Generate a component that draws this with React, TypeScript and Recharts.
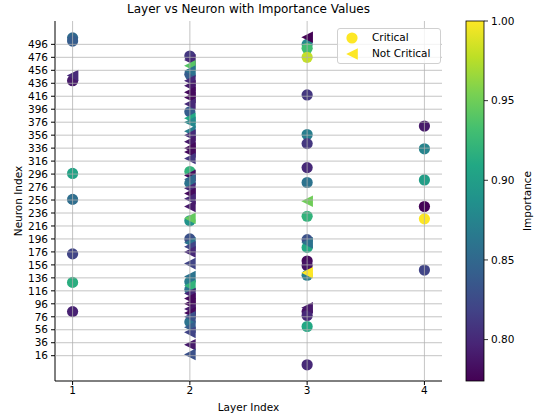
import { ScatterChart, Scatter, XAxis, YAxis, ReferenceLine } from "recharts";

// importance colour range (viridis)
const VMIN = 0.774;
const VMAX = 1.0;

const layerTicks = [1, 2, 3, 4];
const neuronTicks = [16, 36, 56, 76, 96, 116, 136, 156, 176, 196, 216, 236, 256, 276, 296, 316, 336, 356, 376, 396, 416, 436, 456, 476, 496];
const importanceTicks = [0.8, 0.85, 0.9, 0.95, 1.0];

// layer 1
const l1CritNeuron = [506, 501, 440, 297, 257, 173, 129, 84];
const l1CritImp = [0.85, 0.84, 0.79, 0.905, 0.855, 0.82, 0.915, 0.795];
const l1NotNeuron = [448];
const l1NotImp = [0.8];

// layer 2
const l2CritNeuron = [478, 450, 392, 300, 282, 224, 196, 130, 118, 68];
const l2CritImp = [0.81, 0.84, 0.84, 0.92, 0.86, 0.89, 0.83, 0.87, 0.86, 0.86];
const l2NotNeuron = [472, 463, 455, 440, 432, 422, 414, 404, 382, 376, 362, 356, 346, 336, 330, 320, 294, 288, 274, 266, 258, 246, 228, 190, 184, 176, 158, 138, 124, 112, 104, 96, 88, 82, 76, 60, 52, 33, 18];
const l2NotImp = [0.8, 0.94, 0.86, 0.8, 0.79, 0.78, 0.78, 0.8, 0.91, 0.88, 0.87, 0.8, 0.79, 0.78, 0.78, 0.81, 0.78, 0.85, 0.8, 0.78, 0.8, 0.79, 0.945, 0.86, 0.82, 0.8, 0.82, 0.86, 0.92, 0.8, 0.78, 0.78, 0.79, 0.78, 0.83, 0.84, 0.82, 0.79, 0.83];

// layer 3
const l3CritNeuron = [496, 490, 476, 418, 357, 343, 306, 283, 231, 195, 183, 162, 155, 140, 84, 78, 61, 2];
const l3CritImp = [0.88, 0.93, 0.98, 0.81, 0.87, 0.81, 0.8, 0.86, 0.92, 0.83, 0.91, 0.78, 0.785, 0.87, 0.785, 0.8, 0.91, 0.8];
const l3NotNeuron = [507, 254, 190, 144, 90];
const l3NotImp = [0.775, 0.95, 0.86, 1.0, 0.79];

// layer 4
const l4CritNeuron = [370, 335, 287, 246, 227, 148];
const l4CritImp = [0.79, 0.875, 0.9, 0.776, 1.0, 0.82];

const VIRIDIS = ["#440154", "#482475", "#414487", "#355f8d", "#2a788e", "#21918c", "#22a884", "#44bf70", "#7ad151", "#bddf26", "#fde725"];

function hexToRgb(h: string) {
  return [parseInt(h.slice(1, 3), 16), parseInt(h.slice(3, 5), 16), parseInt(h.slice(5, 7), 16)];
}

function viridis(v: number) {
  const t = Math.min(1, Math.max(0, (v - VMIN) / (VMAX - VMIN))) * 10;
  const i = Math.min(9, Math.floor(t));
  const f = t - i;
  const a = hexToRgb(VIRIDIS[i]);
  const b = hexToRgb(VIRIDIS[i + 1]);
  const c = a.map((x, k) => Math.round(x + (b[k] - x) * f));
  return `rgb(${c[0]},${c[1]},${c[2]})`;
}

function build(layer: number, neurons: number[], imps: number[]) {
  return neurons.map((n, i) => ({ layer, neuron: n, imp: imps[i] }));
}

const criticalData = [
  ...build(1, l1CritNeuron, l1CritImp),
  ...build(2, l2CritNeuron, l2CritImp),
  ...build(3, l3CritNeuron, l3CritImp),
  ...build(4, l4CritNeuron, l4CritImp),
];
const notCriticalData = [
  ...build(1, l1NotNeuron, l1NotImp),
  ...build(2, l2NotNeuron, l2NotImp),
  ...build(3, l3NotNeuron, l3NotImp),
];

function CircleMark(props: any) {
  const { cx, cy, payload } = props;
  return <circle cx={cx} cy={cy} r={5.6} fill={viridis(payload.imp)} />;
}

function TriangleMark(props: any) {
  const { cx, cy, payload } = props;
  const h = 5.8;
  return (
    <polygon
      points={`${cx - h},${cy} ${cx + h},${cy - h} ${cx + h},${cy + h}`}
      fill={viridis(payload.imp)}
    />
  );
}

const tickStyle = { fill: "#000", fontSize: 10.5 };
const gridColor = "#b0b0b0";

function Colorbar() {
  const top = 21;
  const bottom = 381;
  const y = (v: number) => bottom - ((v - VMIN) / (VMAX - VMIN)) * (bottom - top);
  const stops = VIRIDIS.map((c, i) => ({ off: i / 10, c }));
  return (
    <svg width={80} height={417} style={{ position: "absolute", left: 457, top: 0 }}>
      <defs>
        <linearGradient id="cbar" x1="0" y1="1" x2="0" y2="0">
          {stops.map((s) => (
            <stop key={s.off} offset={s.off} stopColor={s.c} />
          ))}
        </linearGradient>
      </defs>
      <rect x={9} y={top} width={18} height={bottom - top} fill="url(#cbar)" stroke="#000" strokeWidth={0.8} />
      {importanceTicks.map((v) => (
        <g key={v}>
          <line x1={27} x2={31} y1={y(v)} y2={y(v)} stroke="#000" strokeWidth={0.8} />
          <text x={34} y={y(v)} dy="0.35em" fontSize={10.5} fill="#000">
            {v.toFixed(2)}
          </text>
        </g>
      ))}
      <text
        x={70}
        y={201}
        fontSize={10.5}
        textAnchor="middle"
        transform="rotate(-90 70 201)"
        dy="0.35em"
        fill="#000"
      >
        Importance
      </text>
    </svg>
  );
}

export default function App() {
  return (
    <div
      style={{
        position: "absolute",
        left: 0,
        top: 0,
        width: 537,
        height: 417,
        background: "#fff",
        fontFamily: "'DejaVu Sans', sans-serif",
      }}
    >
      <div style={{ position: "absolute", left: 55, width: 387, top: 2, textAlign: "center", fontSize: 12 }}>
        Layer vs Neuron with Importance Values
      </div>

      <ScatterChart width={537} height={417} margin={{ top: 21, right: 95, bottom: 11, left: 15 }}>
        <XAxis
          type="number"
          dataKey="layer"
          domain={[0.85, 4.15]}
          ticks={layerTicks}
          allowDataOverflow
          tick={tickStyle}
          tickSize={4}
          height={25}
          stroke="#000"
          interval={0}
        />
        <XAxis xAxisId="top" orientation="top" type="number" domain={[0.85, 4.15]} tick={false} tickLine={false} height={0} stroke="#000" />
        <YAxis
          type="number"
          dataKey="neuron"
          domain={[-23, 532]}
          ticks={neuronTicks}
          allowDataOverflow
          tick={tickStyle}
          tickSize={4}
          tickMargin={3}
          width={40}
          stroke="#000"
          interval={0}
        />
        <YAxis yAxisId="right" orientation="right" type="number" domain={[-23, 532]} tick={false} tickLine={false} width={0} stroke="#000" />
        <Scatter data={criticalData} shape={CircleMark} isAnimationActive={false} />
        <Scatter data={notCriticalData} shape={TriangleMark} isAnimationActive={false} />
        {neuronTicks.map((t) => (
          <ReferenceLine key={`h${t}`} y={t} stroke={gridColor} strokeOpacity={0.75} zIndex={1000} />
        ))}
        {layerTicks.map((t) => (
          <ReferenceLine key={`v${t}`} x={t} stroke={gridColor} strokeOpacity={0.75} zIndex={1000} />
        ))}
      </ScatterChart>

      <div style={{ position: "absolute", left: 55, width: 387, top: 401, textAlign: "center", fontSize: 10.5 }}>
        Layer Index
      </div>
      <div
        style={{
          position: "absolute",
          left: 18,
          top: 201,
          fontSize: 10.5,
          whiteSpace: "nowrap",
          transform: "translate(-50%, -50%) rotate(-90deg)",
        }}
      >
        Neuron Index
      </div>

      <div
        style={{
          position: "absolute",
          left: 337,
          top: 28,
          width: 102,
          height: 34,
          background: "rgba(255,255,255,0.8)",
          border: "1px solid #d0d0d0",
          borderRadius: 3,
          fontSize: 10.5,
        }}
      >
        <svg width={24} height={34} style={{ position: "absolute", left: 4, top: 0 }}>
          <circle cx={10} cy={9} r={5.6} fill="#fde725" />
          <polygon points="4.2,25 15.8,19.2 15.8,30.8" fill="#fde725" />
        </svg>
        <div style={{ position: "absolute", left: 34, top: 2 }}>Critical</div>
        <div style={{ position: "absolute", left: 34, top: 18 }}>Not Critical</div>
      </div>

      <Colorbar />
    </div>
  );
}
